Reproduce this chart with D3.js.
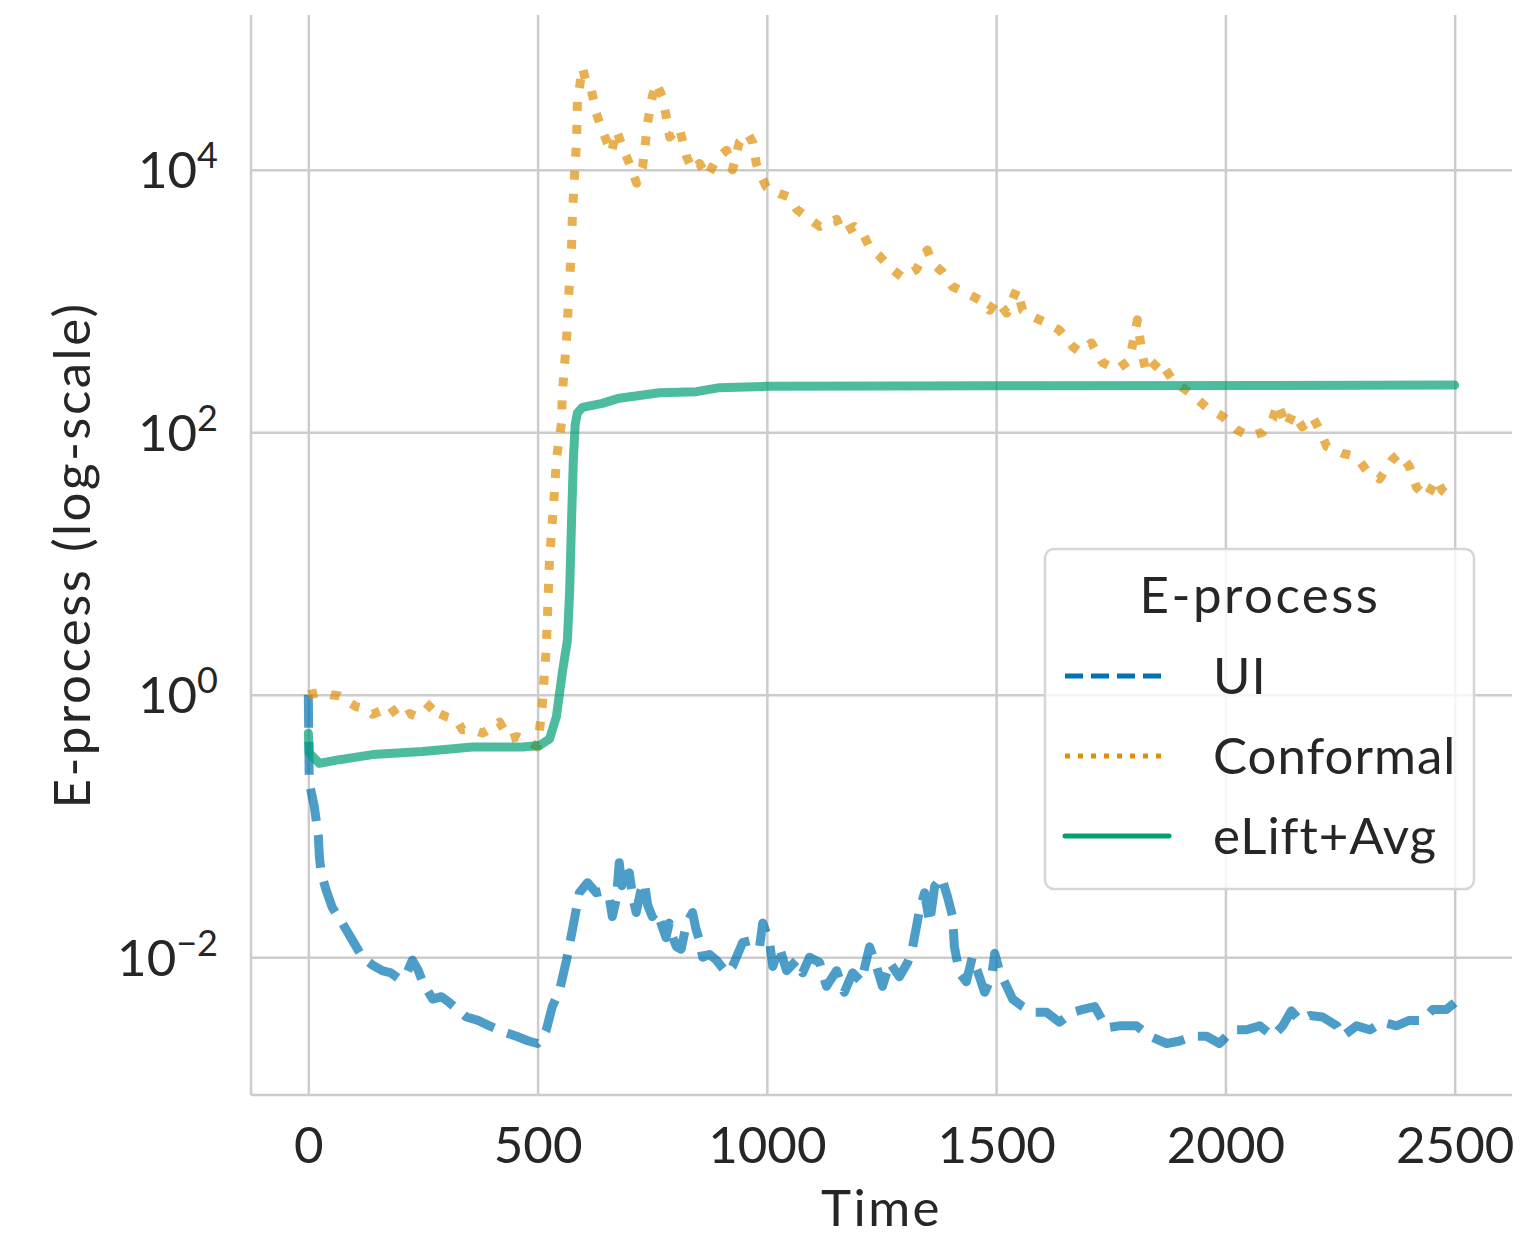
<!DOCTYPE html>
<html>
<head>
<meta charset="utf-8">
<script src="https://cdn.jsdelivr.net/npm/d3@7"></script>
<style>
  body { margin: 0; background: #fff; }
  text { font-family: Lato, "Noto Sans", sans-serif; fill: #262626; }
</style>
</head>
<body>
<svg id="chart" width="1522" height="1237"></svg>
<script>
// values
const uiTime = [0, 2, 13, 22, 24, 28, 39, 52, 74, 96, 118, 140, 161, 180, 199, 215, 227, 240, 249, 271, 290, 308, 345, 370, 395, 425, 454, 480, 500, 510, 519, 532, 548, 563, 576, 591, 609, 628, 645, 657, 663, 672, 678, 684, 690, 700, 708, 715, 725, 733, 740, 750, 760, 772, 780, 787, 795, 803, 813, 825, 838, 845, 853, 860, 875, 890, 912, 925, 947, 969, 984, 991, 1006, 1013, 1027, 1043, 1065, 1078, 1093, 1115, 1130, 1152, 1169, 1187, 1206, 1224, 1239, 1252, 1268, 1289, 1307, 1318, 1333, 1344, 1355, 1366, 1381, 1394, 1405, 1409, 1420, 1435, 1448, 1459, 1475, 1490, 1497, 1507, 1523, 1536, 1558, 1580, 1610, 1638, 1667, 1689, 1715, 1741, 1769, 1806, 1835, 1872, 1900, 1928, 1959, 1987, 2016, 2046, 2075, 2103, 2125, 2144, 2162, 2184, 2212, 2243, 2256, 2286, 2315, 2343, 2373, 2401, 2430, 2452, 2482, 2500];
const uiValue = [1, 0.214, 0.141, 0.0832, 0.0589, 0.0437, 0.0324, 0.024, 0.0182, 0.0135, 0.01, 0.0087, 0.0079, 0.0076, 0.0068, 0.0076, 0.0095, 0.0079, 0.0065, 0.0048, 0.005, 0.0045, 0.0035, 0.0033, 0.003, 0.0027, 0.0025, 0.0023, 0.0022, 0.0024, 0.0028, 0.0042, 0.0056, 0.0095, 0.0162, 0.031, 0.037, 0.031, 0.032, 0.0275, 0.0204, 0.028, 0.0525, 0.035, 0.042, 0.044, 0.028, 0.0219, 0.032, 0.037, 0.025, 0.0204, 0.0224, 0.017, 0.0141, 0.0182, 0.0141, 0.012, 0.0115, 0.0182, 0.0219, 0.0166, 0.0135, 0.01, 0.0105, 0.0095, 0.0076, 0.0085, 0.0129, 0.0135, 0.012, 0.0182, 0.0129, 0.0085, 0.012, 0.0079, 0.0095, 0.0076, 0.01, 0.0091, 0.006, 0.0079, 0.0054, 0.0076, 0.0065, 0.012, 0.0085, 0.006, 0.0091, 0.0071, 0.0091, 0.012, 0.0229, 0.031, 0.0182, 0.0347, 0.0407, 0.0288, 0.0204, 0.012, 0.0076, 0.0065, 0.01, 0.0079, 0.0054, 0.0071, 0.0107, 0.0079, 0.006, 0.0048, 0.0042, 0.0038, 0.0038, 0.0032, 0.0038, 0.004, 0.0042, 0.0029, 0.003, 0.003, 0.0025, 0.0022, 0.0023, 0.0025, 0.0025, 0.0022, 0.0028, 0.0028, 0.003, 0.0025, 0.003, 0.0039, 0.0033, 0.0036, 0.0035, 0.003, 0.0025, 0.003, 0.0028, 0.0032, 0.003, 0.0033, 0.0033, 0.004, 0.004, 0.0045];

const confTime = [0, 31, 50, 68, 90, 105, 125, 140, 160, 177, 199, 220, 236, 255, 271, 285, 301, 323, 336, 360, 380, 400, 417, 438, 455, 467, 485, 500, 510, 515, 519, 526, 537, 541, 552, 554, 563, 569, 574, 576, 580, 585, 587, 598, 606, 617, 628, 641, 661, 672, 685, 700, 716, 729, 740, 750, 759, 772, 781, 788, 809, 825, 838, 853, 870, 890, 912, 925, 940, 958, 969, 977, 984, 999, 1027, 1049, 1065, 1086, 1115, 1152, 1165, 1191, 1209, 1224, 1246, 1267, 1296, 1326, 1350, 1361, 1383, 1405, 1435, 1464, 1486, 1501, 1523, 1545, 1558, 1580, 1610, 1638, 1667, 1682, 1708, 1732, 1763, 1791, 1808, 1818, 1828, 1856, 1885, 1922, 1959, 1994, 2024, 2053, 2081, 2103, 2114, 2134, 2147, 2168, 2190, 2205, 2221, 2256, 2286, 2308, 2336, 2364, 2379, 2401, 2417, 2439, 2460, 2473, 2495];
const confValue = [1.0, 1.05, 1.0, 0.98, 0.87, 0.81, 0.78, 0.71, 0.76, 0.83, 0.65, 0.72, 0.68, 0.76, 0.87, 0.72, 0.68, 0.65, 0.54, 0.54, 0.51, 0.56, 0.62, 0.46, 0.48, 0.46, 0.43, 0.40, 0.81, 1.48, 2.3, 10.7, 36, 62, 117, 200, 500, 1290, 2570, 4680, 8300, 17000, 34000, 60000, 46000, 41000, 27000, 20000, 13500, 20000, 15000, 11200, 7900, 10500, 23000, 36000, 46000, 36000, 25000, 17800, 21000, 12600, 10000, 11200, 8900, 12000, 14100, 10000, 16200, 19000, 16200, 11200, 9500, 7400, 6600, 6200, 5000, 4400, 3700, 4200, 3300, 3700, 3300, 2570, 2200, 1820, 1510, 1740, 2450, 1950, 1660, 1290, 1150, 1020, 850, 1020, 810, 1230, 850, 760, 680, 600, 450, 410, 480, 340, 300, 355, 720, 400, 280, 355, 250, 200, 155, 132, 105, 93, 100, 126, 166, 110, 141, 110, 132, 105, 78, 69, 65, 51, 44, 62, 69, 55, 38, 32, 44, 36, 31];

const liftTime = [0, 2, 24, 68, 140, 249, 358, 467, 504, 526, 541, 554, 565, 570, 574, 578, 582, 587, 598, 641, 678, 766, 846, 897, 999, 1500, 2500];
const liftValue = [0.51, 0.36, 0.30, 0.32, 0.35, 0.37, 0.40, 0.40, 0.41, 0.46, 0.68, 1.48, 2.6, 6.3, 21, 62, 115, 141, 155, 166, 182, 200, 204, 219, 224, 226, 229];

const seriesNames = ['UI', 'Conformal', 'eLift+Avg'];
const seriesColors = ['#0173b2', '#de8f05', '#029e73'];
const xTicks = [0, 500, 1000, 1500, 2000, 2500];
const yTicks = [1e-2, 1, 1e2, 1e4];
const yTickExp = ['\u22122', '0', '2', '4'];

const svg = d3.select('#chart');

const plotLeft = 251, plotRight = 1512, plotTop = 15, plotBottom = 1095;

const x = d3.scaleLinear().domain([-125, 2625]).range([plotLeft, plotRight]);
const y = d3.scaleLog().domain([Math.pow(10, -3.05), Math.pow(10, 5.18)]).range([plotBottom, plotTop]);

/* grid */
const gridX = svg.append('g')
  .attr('transform', `translate(0,${plotBottom})`)
  .call(d3.axisBottom(x).tickValues(xTicks).tickSize(-(plotBottom - plotTop)).tickFormat(''));
const gridY = svg.append('g')
  .attr('transform', `translate(${plotLeft},0)`)
  .call(d3.axisLeft(y).tickValues(yTicks).tickSize(-(plotRight - plotLeft)).tickFormat(''));
[gridX, gridY].forEach(g => {
  g.select('.domain').remove();
  g.selectAll('.tick line').attr('stroke', '#cccccc').attr('stroke-width', 2.5);
});

/* spines (left + bottom only) */
svg.append('line').attr('x1', plotLeft).attr('x2', plotLeft).attr('y1', plotTop).attr('y2', plotBottom)
  .attr('stroke', '#cccccc').attr('stroke-width', 2.5);
svg.append('line').attr('x1', plotLeft).attr('x2', plotRight).attr('y1', plotBottom).attr('y2', plotBottom)
  .attr('stroke', '#cccccc').attr('stroke-width', 2.5);

/* tick labels */
const xAxis = svg.append('g')
  .attr('transform', `translate(0,${plotBottom})`)
  .call(d3.axisBottom(x).tickValues(xTicks).tickSize(0).tickPadding(32).tickFormat(d3.format('d')));
xAxis.select('.domain').remove();
xAxis.selectAll('text').attr('font-size', 51).attr('font-family', null).attr('fill', '#262626');

const yAxis = svg.append('g')
  .attr('transform', `translate(${plotLeft},0)`)
  .call(d3.axisLeft(y).tickValues(yTicks).tickSize(0).tickPadding(33).tickFormat(''));
yAxis.select('.domain').remove();
yAxis.selectAll('.tick text').each(function(d, i) {
  const t = d3.select(this).attr('font-size', 51).attr('font-family', null).attr('fill', '#262626')
    .attr('dy', '0.35em');
  t.append('tspan').text('10');
  t.append('tspan').attr('font-size', 36).attr('dy', -20).text(yTickExp[i]);
});

/* axis titles */
svg.append('text')
  .attr('x', (plotLeft + plotRight) / 2).attr('y', 1226)
  .attr('text-anchor', 'middle').attr('font-size', 51).attr('letter-spacing', 2.5)
  .text('Time');
svg.append('text')
  .attr('transform', `translate(90,${(plotTop + plotBottom) / 2}) rotate(-90)`)
  .attr('text-anchor', 'middle').attr('font-size', 51).attr('letter-spacing', 2.5)
  .text('E-process (log-scale)');

/* lines */
const line = d3.line().x(d => x(d.t)).y(d => y(d.v));
const toPts = (ts, vs) => ts.map((t, i) => ({ t: t, v: vs[i] }));

const uiData = toPts(uiTime, uiValue);
const confData = toPts(confTime, confValue);
const liftData = toPts(liftTime, liftValue);

const plot = svg.append('g');
plot.append('path').datum(uiData)
  .attr('d', line).attr('fill', 'none')
  .attr('stroke', seriesColors[0]).attr('stroke-opacity', 0.7).attr('stroke-width', 9)
  .attr('stroke-dasharray', '33,14').attr('stroke-linejoin', 'round');
plot.append('path').datum(confData)
  .attr('d', line).attr('fill', 'none')
  .attr('stroke', seriesColors[1]).attr('stroke-opacity', 0.7).attr('stroke-width', 9)
  .attr('stroke-dasharray', '9,14').attr('stroke-linejoin', 'round');
plot.append('path').datum(liftData)
  .attr('d', line).attr('fill', 'none')
  .attr('stroke', seriesColors[2]).attr('stroke-opacity', 0.7).attr('stroke-width', 9)
  .attr('stroke-linejoin', 'round').attr('stroke-linecap', 'round');

/* legend */
const legend = svg.append('g');
legend.append('rect')
  .attr('x', 1045).attr('y', 549).attr('width', 429).attr('height', 340)
  .attr('rx', 9).attr('fill', 'white').attr('fill-opacity', 0.8)
  .attr('stroke', '#d6d6d6').attr('stroke-width', 2.5);
legend.append('text')
  .attr('x', 1260).attr('y', 613).attr('text-anchor', 'middle').attr('font-size', 51)
  .attr('letter-spacing', 2.5)
  .text('E-process');

const legendDash = ['18,8', '5,8', null];
const legendRow = legend.selectAll('g.row')
  .data(seriesNames)
  .enter().append('g')
  .attr('class', 'row')
  .attr('transform', (d, i) => `translate(0,${676 + i * 80})`);
legendRow.append('line')
  .attr('x1', 1065).attr('x2', (d, i) => i === 2 ? 1169 : 1163)
  .attr('y1', 0).attr('y2', 0)
  .attr('stroke', (d, i) => seriesColors[i]).attr('stroke-width', 5)
  .attr('stroke-dasharray', (d, i) => legendDash[i])
  .attr('stroke-linecap', (d, i) => i === 2 ? 'round' : 'butt');
legendRow.append('text')
  .attr('x', 1213).attr('y', 18).attr('font-size', 51).attr('letter-spacing', 1)
  .text(d => d);
</script>
</body>
</html>
